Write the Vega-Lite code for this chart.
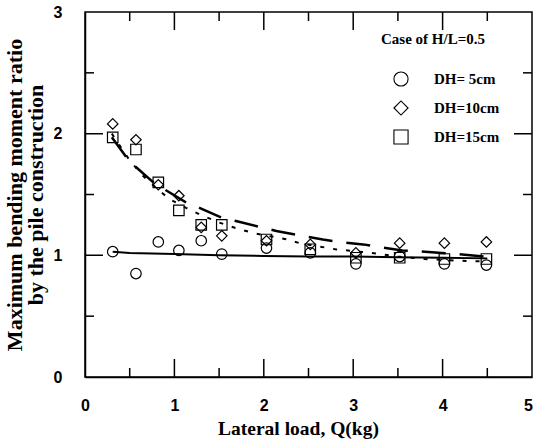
{
  "$schema": "https://vega.github.io/schema/vega-lite/v6.json",
  "width": 447,
  "height": 365,
  "autosize": "none",
  "padding": {"left": 85, "top": 12, "right": 3, "bottom": 66},
  "background": "white",
  "datasets": {
    "pts": [
      {"q": 0.31, "r": 1.03, "dh": "DH= 5cm"},
      {"q": 0.57, "r": 0.85, "dh": "DH= 5cm"},
      {"q": 0.82, "r": 1.11, "dh": "DH= 5cm"},
      {"q": 1.05, "r": 1.04, "dh": "DH= 5cm"},
      {"q": 1.30, "r": 1.12, "dh": "DH= 5cm"},
      {"q": 1.53, "r": 1.01, "dh": "DH= 5cm"},
      {"q": 2.03, "r": 1.06, "dh": "DH= 5cm"},
      {"q": 2.52, "r": 1.02, "dh": "DH= 5cm"},
      {"q": 3.03, "r": 0.93, "dh": "DH= 5cm"},
      {"q": 3.52, "r": 0.99, "dh": "DH= 5cm"},
      {"q": 4.02, "r": 0.93, "dh": "DH= 5cm"},
      {"q": 4.49, "r": 0.92, "dh": "DH= 5cm"},
      {"q": 0.31, "r": 2.08, "dh": "DH=10cm"},
      {"q": 0.57, "r": 1.95, "dh": "DH=10cm"},
      {"q": 0.82, "r": 1.58, "dh": "DH=10cm"},
      {"q": 1.05, "r": 1.49, "dh": "DH=10cm"},
      {"q": 1.30, "r": 1.23, "dh": "DH=10cm"},
      {"q": 1.53, "r": 1.16, "dh": "DH=10cm"},
      {"q": 2.03, "r": 1.12, "dh": "DH=10cm"},
      {"q": 2.52, "r": 1.09, "dh": "DH=10cm"},
      {"q": 3.03, "r": 1.02, "dh": "DH=10cm"},
      {"q": 3.52, "r": 1.10, "dh": "DH=10cm"},
      {"q": 4.02, "r": 1.10, "dh": "DH=10cm"},
      {"q": 4.49, "r": 1.11, "dh": "DH=10cm"},
      {"q": 0.31, "r": 1.97, "dh": "DH=15cm"},
      {"q": 0.57, "r": 1.87, "dh": "DH=15cm"},
      {"q": 0.82, "r": 1.60, "dh": "DH=15cm"},
      {"q": 1.05, "r": 1.37, "dh": "DH=15cm"},
      {"q": 1.30, "r": 1.25, "dh": "DH=15cm"},
      {"q": 1.53, "r": 1.25, "dh": "DH=15cm"},
      {"q": 2.03, "r": 1.13, "dh": "DH=15cm"},
      {"q": 2.52, "r": 1.05, "dh": "DH=15cm"},
      {"q": 3.03, "r": 0.98, "dh": "DH=15cm"},
      {"q": 3.52, "r": 0.98, "dh": "DH=15cm"},
      {"q": 4.02, "r": 0.97, "dh": "DH=15cm"},
      {"q": 4.49, "r": 0.97, "dh": "DH=15cm"}
    ],
    "fits": [
      {"fit": "solid", "q": 0.31, "r": 1.03},
      {"fit": "solid", "q": 0.5, "r": 1.02},
      {"fit": "solid", "q": 1.0, "r": 1.01},
      {"fit": "solid", "q": 1.5, "r": 1.0},
      {"fit": "solid", "q": 2.0, "r": 0.995},
      {"fit": "solid", "q": 2.5, "r": 0.99},
      {"fit": "solid", "q": 3.0, "r": 0.99},
      {"fit": "solid", "q": 3.5, "r": 0.985},
      {"fit": "solid", "q": 4.0, "r": 0.98},
      {"fit": "solid", "q": 4.5, "r": 0.975},
      {"fit": "dash", "q": 0.3, "r": 1.97},
      {"fit": "dash", "q": 0.5, "r": 1.77},
      {"fit": "dash", "q": 0.78, "r": 1.59},
      {"fit": "dash", "q": 1.12, "r": 1.44},
      {"fit": "dash", "q": 1.28, "r": 1.39},
      {"fit": "dash", "q": 1.53, "r": 1.31},
      {"fit": "dash", "q": 1.70, "r": 1.28},
      {"fit": "dash", "q": 1.97, "r": 1.23},
      {"fit": "dash", "q": 2.14, "r": 1.20},
      {"fit": "dash", "q": 2.66, "r": 1.13},
      {"fit": "dash", "q": 2.83, "r": 1.11},
      {"fit": "dash", "q": 3.11, "r": 1.09},
      {"fit": "dash", "q": 3.27, "r": 1.07},
      {"fit": "dash", "q": 3.55, "r": 1.04},
      {"fit": "dash", "q": 3.71, "r": 1.035},
      {"fit": "dash", "q": 3.99, "r": 1.02},
      {"fit": "dash", "q": 4.16, "r": 1.01},
      {"fit": "dash", "q": 4.47, "r": 0.99},
      {"fit": "dot", "q": 0.3, "r": 2.0},
      {"fit": "dot", "q": 0.5, "r": 1.78},
      {"fit": "dot", "q": 0.64, "r": 1.66},
      {"fit": "dot", "q": 0.8, "r": 1.55},
      {"fit": "dot", "q": 0.95, "r": 1.46},
      {"fit": "dot", "q": 1.13, "r": 1.39},
      {"fit": "dot", "q": 1.3, "r": 1.33},
      {"fit": "dot", "q": 1.5, "r": 1.27},
      {"fit": "dot", "q": 1.7, "r": 1.22},
      {"fit": "dot", "q": 1.9, "r": 1.18},
      {"fit": "dot", "q": 2.27, "r": 1.13},
      {"fit": "dot", "q": 2.4, "r": 1.10},
      {"fit": "dot", "q": 2.8, "r": 1.05},
      {"fit": "dot", "q": 3.2, "r": 1.02},
      {"fit": "dot", "q": 3.5, "r": 0.99},
      {"fit": "dot", "q": 3.8, "r": 0.97},
      {"fit": "dot", "q": 4.2, "r": 0.955},
      {"fit": "dot", "q": 4.5, "r": 0.95}
    ],
    "xticks": [
      {"v": 0.5, "kind": "minor"}, {"v": 1, "kind": "major"}, {"v": 1.5, "kind": "minor"},
      {"v": 2, "kind": "major"}, {"v": 2.5, "kind": "minor"}, {"v": 3, "kind": "major"},
      {"v": 3.5, "kind": "minor"}, {"v": 4, "kind": "major"}, {"v": 4.5, "kind": "minor"}
    ],
    "yticks": [
      {"v": 0.5, "kind": "minor"}, {"v": 1, "kind": "major"}, {"v": 1.5, "kind": "minor"},
      {"v": 2, "kind": "major"}, {"v": 2.5, "kind": "minor"}
    ]
  },
  "config": {
    "view": {"stroke": "black", "strokeWidth": 1.5},
    "axis": {
      "grid": false,
      "ticks": false,
      "domainColor": "black",
      "domainWidth": 1.5,
      "labelFont": "Liberation Sans",
      "labelFontWeight": "bold",
      "labelFontSize": 16,
      "labelColor": "black",
      "labelFlush": false,
      "labelBound": false,
      "titleFont": "Liberation Serif",
      "titleFontWeight": "bold",
      "titleColor": "black",
      "titleFontSize": 19.5
    }
  },
  "resolve": {
    "scale": {"x": "shared", "y": "shared", "size": "shared"},
    "axis": {"x": "independent", "y": "independent"}
  },
  "layer": [
    {
      "data": {"name": "pts"},
      "mark": {"type": "point", "filled": false, "color": "black", "strokeWidth": 1.2, "opacity": 1, "size": 110},
      "encoding": {
        "x": {
          "field": "q", "type": "quantitative",
          "scale": {"domain": [0, 5], "nice": false, "zero": false},
          "axis": {"orient": "bottom", "values": [0, 1, 2, 3, 4, 5], "labelPadding": 20,
                   "labelOffset": {"condition": {"test": "datum.value === 5", "value": -4}, "value": 0},
                   "title": "Lateral load, Q(kg)", "titlePadding": 6, "titleX": 213}
        },
        "y": {
          "field": "r", "type": "quantitative",
          "scale": {"domain": [0, 3], "nice": false, "zero": false},
          "axis": {"orient": "left", "values": [0, 1, 2, 3], "labelPadding": 23,
                   "title": ["Maximum bending moment ratio", "by the pile construction"], "titleFontSize": 22, "titleLineHeight": 21, "titlePadding": 6}
        },
        "shape": {
          "field": "dh", "type": "nominal",
          "scale": {"domain": ["DH= 5cm", "DH=10cm", "DH=15cm"], "range": ["circle", "diamond", "square"]},
          "legend": {
            "orient": "none", "legendX": 296, "legendY": 20,
            "title": "Case of H/L=0.5",
            "titleFont": "Liberation Serif", "titleFontWeight": "bold", "titleFontSize": 15, "titleColor": "black", "titlePadding": 24,
            "labelFont": "Liberation Serif", "labelFontWeight": "bold", "labelFontSize": 15, "labelColor": "black",
            "labelOffset": 25, "symbolOffset": 12, "symbolSize": 200, "symbolStrokeWidth": 1.1,
            "symbolStrokeColor": "black", "symbolFillColor": "transparent", "rowPadding": 9
          }
        }
      }
    },
    {
      "data": {"name": "fits"},
      "transform": [{"filter": "datum.fit === 'solid'"}],
      "mark": {"type": "line", "color": "black", "strokeWidth": 2},
      "encoding": {
        "x": {"field": "q", "type": "quantitative", "axis": null},
        "y": {"field": "r", "type": "quantitative", "axis": null}
      }
    },
    {
      "data": {"name": "fits"},
      "transform": [{"filter": "datum.fit === 'dash'"}],
      "mark": {"type": "line", "color": "black", "strokeWidth": 2.5, "strokeDash": [24, 14]},
      "encoding": {
        "x": {"field": "q", "type": "quantitative", "axis": null},
        "y": {"field": "r", "type": "quantitative", "axis": null}
      }
    },
    {
      "data": {"name": "fits"},
      "transform": [{"filter": "datum.fit === 'dot'"}],
      "mark": {"type": "line", "color": "black", "strokeWidth": 2, "strokeDash": [4, 9]},
      "encoding": {
        "x": {"field": "q", "type": "quantitative", "axis": null},
        "y": {"field": "r", "type": "quantitative", "axis": null}
      }
    },
    {
      "data": {"name": "xticks"},
      "mark": {"type": "tick", "orient": "vertical", "color": "black", "thickness": 1.5, "clip": true, "opacity": 1},
      "encoding": {
        "x": {"field": "v", "type": "quantitative", "axis": null},
        "y": {"datum": 0, "type": "quantitative", "axis": null},
        "size": {"field": "kind", "type": "nominal", "scale": {"domain": ["major", "minor"], "range": [36, 18]}, "legend": null}
      }
    },
    {
      "data": {"name": "xticks"},
      "mark": {"type": "tick", "orient": "vertical", "color": "black", "thickness": 1.5, "clip": true, "opacity": 1},
      "encoding": {
        "x": {"field": "v", "type": "quantitative", "axis": null},
        "y": {"datum": 3, "type": "quantitative", "axis": null},
        "size": {"field": "kind", "type": "nominal", "scale": {"domain": ["major", "minor"], "range": [36, 18]}, "legend": null}
      }
    },
    {
      "data": {"name": "yticks"},
      "mark": {"type": "tick", "orient": "horizontal", "color": "black", "thickness": 1.5, "clip": true, "opacity": 1},
      "encoding": {
        "y": {"field": "v", "type": "quantitative", "axis": null},
        "x": {"datum": 0, "type": "quantitative", "axis": null},
        "size": {"field": "kind", "type": "nominal", "scale": {"domain": ["major", "minor"], "range": [36, 18]}, "legend": null}
      }
    },
    {
      "data": {"name": "yticks"},
      "mark": {"type": "tick", "orient": "horizontal", "color": "black", "thickness": 1.5, "clip": true, "opacity": 1},
      "encoding": {
        "y": {"field": "v", "type": "quantitative", "axis": null},
        "x": {"datum": 5, "type": "quantitative", "axis": null},
        "size": {"field": "kind", "type": "nominal", "scale": {"domain": ["major", "minor"], "range": [36, 18]}, "legend": null}
      }
    }
  ]
}
